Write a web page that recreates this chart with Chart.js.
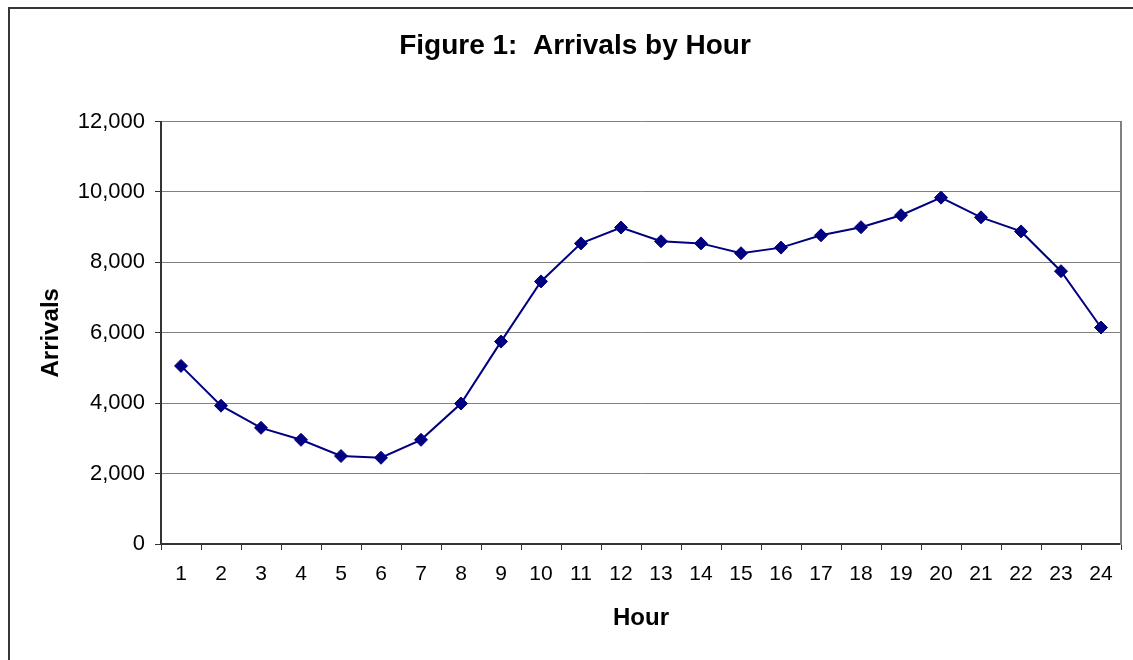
<!DOCTYPE html>
<html>
<head>
<meta charset="utf-8">
<script src="https://cdn.jsdelivr.net/npm/chart.js@4.4.0/dist/chart.umd.min.js"></script>
<style>
  html, body { margin: 0; padding: 0; background: #ffffff; overflow: hidden; width: 1133px; height: 660px; }
  #frame { position: absolute; left: 8px; top: 7px; width: 2000px; height: 2000px;
           border-left: 2px solid #363636; border-top: 2px solid #363636; }
  #c { position: absolute; left: 0; top: 0; }
</style>
</head>
<body>
<div id="frame"></div>
<canvas id="c" width="1150" height="660"></canvas>
<script>
const hours = ["1","2","3","4","5","6","7","8","9","10","11","12","13","14","15","16","17","18","19","20","21","22","23","24"];
const arrivals = [5060, 3930, 3300, 2960, 2500, 2450, 2960, 3990, 5750, 7460, 8540, 8990,
                  8600, 8540, 8260, 8420, 8770, 9000, 9340, 9840, 9280, 8880, 7750, 6150];
const yTicks = [0, 2000, 4000, 6000, 8000, 10000, 12000];

const FONT = '"Liberation Sans", Arial, sans-serif';

new Chart(document.getElementById('c'), {
  type: 'line',
  data: {
    labels: hours,
    datasets: [{
      label: 'Arrivals',
      data: arrivals,
      borderColor: '#000080',
      backgroundColor: '#000080',
      borderWidth: 2,
      tension: 0,
      fill: false,
      pointStyle: 'rectRot',
      pointRadius: 6.5,
      pointBorderWidth: 1,
      pointBackgroundColor: '#000080',
      pointBorderColor: '#000080'
    }]
  },
  options: {
    responsive: false,
    animation: false,
    layout: { padding: { left: 0, right: 0, top: 0, bottom: 0 } },
    plugins: {
      legend: { display: false },
      tooltip: { enabled: false },
      title: {
        display: true,
        text: 'Figure 1:  Arrivals by Hour',
        color: '#000000',
        font: { family: FONT, size: 28, weight: 'bold' },
        padding: { top: 29, bottom: 59 }
      }
    },
    scales: {
      x: {
        type: 'category',
        offset: true,
        grid: { offset: true, drawOnChartArea: false, drawTicks: true, tickLength: 6, tickColor: '#333333', tickWidth: 1 },
        border: { display: true, color: '#333333', width: 2 },
        ticks: { color: '#000000', font: { family: FONT, size: 21 }, padding: 12, autoSkip: false, maxRotation: 0 },
        title: { display: true, text: 'Hour', color: '#000000', font: { family: FONT, size: 24, weight: 'bold' }, padding: { top: 0, bottom: 27 } },
        afterFit: (s) => { s.height = 116; }
      },
      y: {
        type: 'linear',
        position: 'left',
        min: 0,
        max: 12000,
        afterBuildTicks: (s) => { s.ticks = yTicks.map(v => ({ value: v })); },
        grid: { color: '#808080', lineWidth: 1, drawTicks: true, tickLength: 6, tickColor: '#333333', tickWidth: 1 },
        border: { display: true, color: '#333333', width: 2 },
        ticks: { color: '#000000', font: { family: FONT, size: 22 }, padding: 10,
                 callback: (v) => Number(v).toLocaleString('en-US') },
        title: { display: true, text: 'Arrivals', color: '#000000', font: { family: FONT, size: 24, weight: 'bold' }, padding: { top: 37, bottom: 0 } },
        afterFit: (s) => { s.width = 161; }
      },
      yR: {
        type: 'linear',
        position: 'right',
        display: true,
        min: 0,
        max: 12000,
        grid: { display: false, drawTicks: false },
        ticks: { display: false },
        border: { display: true, color: '#808080', width: 2 },
        afterFit: (s) => { s.width = 29; }
      }
    }
  }
});
</script>
</body>
</html>
